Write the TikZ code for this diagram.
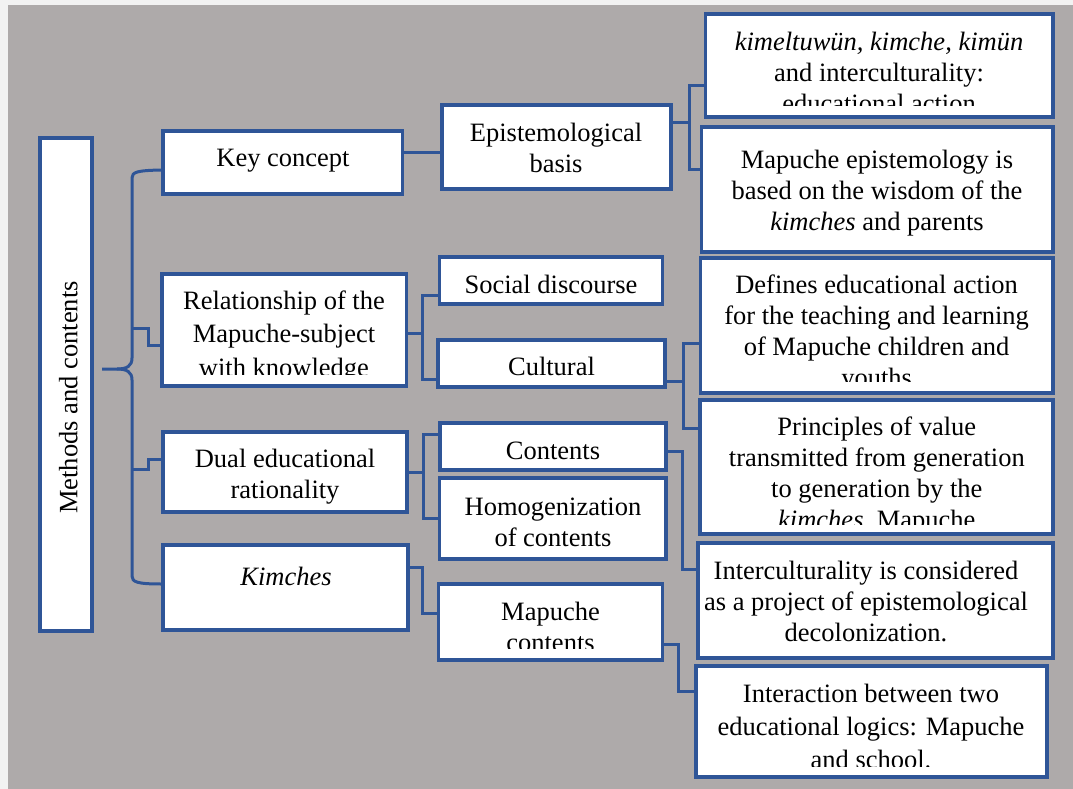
\documentclass[tikz,border=0pt]{standalone}
\usepackage{fontspec}
\setmainfont{Liberation Serif}
\newfontfamily\tnr{Liberation Serif}
\usetikzlibrary{fit}
\definecolor{lineblue}{RGB}{47,85,151}
\definecolor{bggrey}{RGB}{174,170,170}
\definecolor{margin}{RGB}{242,242,242}
\newcommand{\tl}[1]{\begin{tabular}[t]{@{}c@{}}#1\end{tabular}}
\tikzset{
  box/.style={draw=lineblue, fill=white, line width=3.2pt, inner sep=0pt, rectangle},
  conn/.style={draw=lineblue, line width=3pt, line join=miter},
  txt/.style={anchor=base, inner sep=0pt, font={\tnr\fontsize{26.5}{31}\selectfont}, text=black},
}
\begin{document}
\begin{tikzpicture}[x=1pt,y=-1pt]
\useasboundingbox (0,0) rectangle (1073,789);
\fill[margin] (0,0) rectangle (1073,789);
\fill[bggrey] (8,5) rectangle (1073,789);

% boxes
\node[box, fit={(40,138) (92,631)}] (mcbox) {};
\node[box, fit={(163,131) (402.7,194)}] (kc) {};
\node[box, fit={(162,274) (406.7,386)}] (rel) {};
\node[box, fit={(163,432) (407,512)}] (dual) {};
\node[box, fit={(163,545) (408,630)}] (kim) {};
\node[box, fit={(442,105) (671,189)}] (ep) {};
\node[box, fit={(439.5,257) (662.7,304)}] (soc) {};
\node[box, fit={(438,340) (665,387)}] (cul) {};
\node[box, fit={(440,423) (666,470)}] (con) {};
\node[box, fit={(439.5,478) (666,559)}] (hom) {};
\node[box, fit={(438.6,584) (662.7,660)}] (mc) {};
\node[box, fit={(705.6,14) (1053,117)}] (k1) {};
\node[box, fit={(701.7,127) (1053,252)}] (k2) {};
\node[box, fit={(700.4,258) (1053,393)}] (def) {};
\node[box, fit={(700,400) (1053,534)}] (pri) {};
\node[box, fit={(698,543) (1053,658)}] (int) {};
\node[box, fit={(696,666) (1047,777)}] (inter) {};

% texts
\node[txt, rotate=90] (tmc) at (77.3,397.5) {Methods and contents};
\node[txt] (tkc) at (283,166.7) {Key concept};
\node[txt] (tep) at (556,141.7) {\tl{Epistemological\\basis}};
\begin{scope}
\clip (708,17) rectangle (1050,106);
\node[txt] (tk1) at (879,51) {\tl{\textit{kimeltuwün, kimche, kimün}\\and interculturality:\\educational action}};
\end{scope}
\node[txt] (tk2) at (877,168) {\tl{Mapuche epistemology is\\based on the wisdom of the\\\textit{kimches} and parents}};
\begin{scope}
\clip (165,277) rectangle (404,374.5);
\node[txt] (trel) at (284,309.5) {\tl{Relationship of the\\[2.3pt]Mapuche-subject\\[2.3pt]with knowledge}};
\end{scope}
\node[txt] (tsoc) at (551,293) {Social discourse};
\node[txt] (tcul) at (551.5,375.7) {Cultural};
\begin{scope}
\clip (703,261) rectangle (1050,381.7);
\node[txt] (tdef) at (876.6,293) {\tl{Defines educational action\\for the teaching and learning\\of Mapuche children and\\youths}};
\end{scope}
\node[txt] (tdual) at (285,467.3) {\tl{Dual educational\\rationality}};
\node[txt] (tcon) at (553,459) {Contents};
\node[txt] (thom) at (553,515) {\tl{Homogenization\\of contents}};
\begin{scope}
\clip (703,403) rectangle (1050,524);
\node[txt] (tpri) at (876.8,435.7) {\tl{Principles of value\\transmitted from generation\\to generation by the\\\textit{kimches}, Mapuche}};
\end{scope}
\node[txt] (tkim) at (286,585) {\textit{Kimches}};
\begin{scope}
\clip (441,587) rectangle (660,648);
\node[txt] (tmcn) at (550.5,620.7) {\tl{Mapuche\\contents}};
\end{scope}
\node[txt] (tint) at (866,579) {\tl{Interculturality is considered\\as a project of epistemological\\decolonization.}};
\begin{scope}
\clip (699,669) rectangle (1044,766);
\node[txt] (tinter) at (871,702) {\tl{Interaction between two\\[2pt]educational logics: Mapuche\\[2pt]and school.}};
\end{scope}

% brace
\coordinate (tip) at (102,369);
\draw[conn, line join=round] (tip) -- (117,369) .. controls (127,369) and (132,366) .. (132,358)
  -- (132,178) .. controls (132,172) and (137,170.5) .. (kc.west |- 0,170);
\draw[conn, line join=round] (117,369) .. controls (127,369) and (132,372) .. (132,380)
  -- (132,576) .. controls (132,582) and (137,584) .. (kim.west |- 0,584);
\draw[conn] (132,328) -- (148,328) -- (148,345) -- (rel.west |- 0,345);
\draw[conn] (132,469) -- (148,469) -- (148,459) -- (dual.west |- 0,459);

% column 2 -> column 3
\draw[conn] (kc.east |- 0,152) -- (ep.west |- 0,152);
\draw[conn] (rel.east |- 0,333) -- (422,333);
\draw[conn] (soc.west |- 0,295) -- (422,295) -- (422,379) -- (cul.west |- 0,379);
\draw[conn] (dual.east |- 0,472) -- (423.6,472);
\draw[conn] (con.west |- 0,434) -- (423.6,434) -- (423.6,518) -- (hom.west |- 0,518);
\draw[conn] (kim.east |- 0,567) -- (422,567) -- (422,613) -- (mc.west |- 0,613);

% column 3 -> column 4
\draw[conn] (ep.east |- 0,123) -- (689,123);
\draw[conn] (k1.west |- 0,86) -- (689,86) -- (689,169) -- (k2.west |- 0,169);
\draw[conn] (cul.east |- 0,381) -- (683,381);
\draw[conn] (def.west |- 0,343) -- (683,343) -- (683,428) -- (pri.west |- 0,428);
\draw[conn] (con.east |- 0,451) -- (682,451) -- (682,569) -- (int.west |- 0,569);
\draw[conn] (mc.east |- 0,644) -- (678,644) -- (678,691) -- (inter.west |- 0,691);
\end{tikzpicture}
\end{document}
